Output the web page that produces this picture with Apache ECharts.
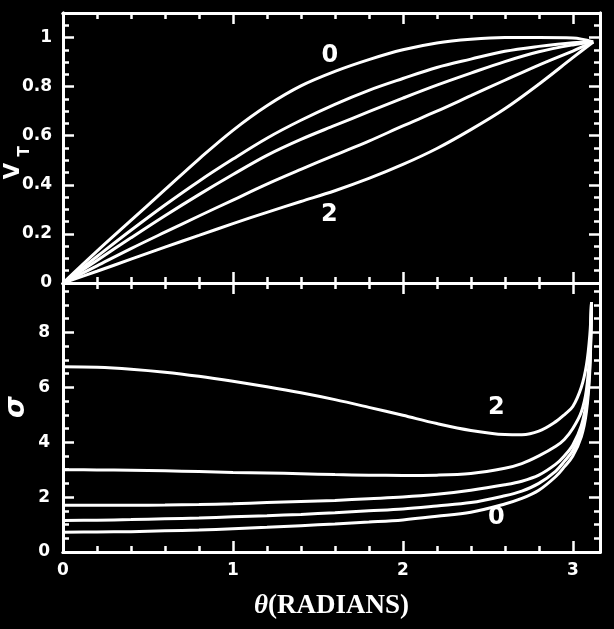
<!DOCTYPE html>
<html><head><meta charset="utf-8">
<script src="https://cdn.jsdelivr.net/npm/echarts@6/dist/echarts.min.js"></script>
<style>html,body{margin:0;padding:0;background:#000}#c{width:614px;height:629px}</style>
</head><body><div id="c"></div>
<script>
// ---- data ----
const thetaTop = [0, 0.2, 0.4, 0.6, 0.8, 1.0, 1.2, 1.4, 1.6, 1.8, 2.0, 2.2, 2.4, 2.6, 2.8, 3.0, 3.12];
const vt0 = [0, 0.13, 0.255, 0.38, 0.505, 0.622, 0.722, 0.803, 0.862, 0.91, 0.95, 0.978, 0.993, 1.0, 1.0, 0.998, 0.982];
const vt1 = [0, 0.108, 0.215, 0.318, 0.415, 0.505, 0.59, 0.663, 0.728, 0.785, 0.833, 0.878, 0.912, 0.944, 0.964, 0.979, 0.982];
const vt2 = [0, 0.092, 0.184, 0.274, 0.36, 0.442, 0.52, 0.585, 0.642, 0.698, 0.753, 0.806, 0.855, 0.902, 0.942, 0.97, 0.982];
const vt3 = [0, 0.07, 0.14, 0.207, 0.273, 0.338, 0.403, 0.463, 0.521, 0.578, 0.64, 0.7, 0.763, 0.826, 0.888, 0.945, 0.982];
const vt4 = [0, 0.048, 0.097, 0.146, 0.194, 0.242, 0.288, 0.332, 0.376, 0.426, 0.483, 0.548, 0.625, 0.71, 0.81, 0.918, 0.982];

const thetaBot = [0, 0.2, 0.4, 0.6, 0.8, 1.0, 1.2, 1.4, 1.6, 1.8, 2.0, 2.2, 2.4, 2.6, 2.7, 2.8, 2.9, 2.95, 3.0, 3.05, 3.08, 3.1, 3.11];
const sg0 = [0.72, 0.73, 0.74, 0.77, 0.8, 0.85, 0.9, 0.96, 1.02, 1.09, 1.17, 1.3, 1.45, 1.75, 1.95, 2.25, 2.75, 3.1, 3.5, 4.2, 5.1, 6.6, 9.1];
const sg1 = [1.15, 1.16, 1.18, 1.21, 1.24, 1.28, 1.32, 1.37, 1.43, 1.5, 1.57, 1.68, 1.8, 2.05, 2.22, 2.5, 2.95, 3.3, 3.7, 4.4, 5.3, 6.8, 9.1];
const sg2 = [1.7, 1.7, 1.7, 1.71, 1.73, 1.76, 1.8, 1.84, 1.88, 1.94, 2.0, 2.1, 2.25, 2.45, 2.58, 2.8, 3.2, 3.5, 3.9, 4.6, 5.5, 7.0, 9.1];
const sg3 = [3.0, 2.99, 2.98, 2.96, 2.93, 2.9, 2.88, 2.85, 2.82, 2.8, 2.79, 2.8, 2.86, 3.05, 3.22, 3.5, 3.85, 4.1, 4.5, 5.1, 5.9, 7.3, 9.1];
const sg4 = [6.75, 6.73, 6.66, 6.55, 6.4, 6.22, 6.02, 5.8, 5.55, 5.27, 4.98, 4.68, 4.43, 4.28, 4.27, 4.4, 4.75, 5.0, 5.3, 6.0, 6.8, 7.9, 9.1];

const labelsTop = [['0', 1.57, 0.927], ['2', 1.567, 0.276]];
const labelsBot = [['2', 2.55, 5.25], ['0', 2.55, 1.24]];

const xTicks = { min: 0, max: 3.16, major: 1, minor: 0.2 };
const yTopTicks = { min: 0, max: 1.1, major: 0.2, minor: 0.05 };
const yBotTicks = { min: 0, max: 9.8, major: 2, minor: 0.5 };

// ---- chart ----
const W = '#fff';
const tickFont = { color: W, fontFamily: 'DejaVu Sans', fontWeight: 'bold', fontSize: 17 };

function axis(grid, pos, t, major, showLabel, extra) {
  const a = {
    type: 'value', gridIndex: grid, position: pos,
    min: t.min, max: t.max, interval: major ? t.major : t.minor,
    axisLine: { show: true, onZero: false, lineStyle: { color: W, width: 3 } },
    axisTick: { show: true, inside: true, length: major ? 11 : 6, lineStyle: { color: W, width: 2.5 } },
    splitLine: { show: false },
    axisLabel: Object.assign({ show: showLabel, showMaxLabel: false }, tickFont)
  };
  return Object.assign(a, extra || {});
}

const xAxes = [
  axis(0, 'bottom', xTicks, true, false),
  axis(0, 'bottom', xTicks, false, false),
  axis(0, 'top', xTicks, true, false),
  axis(0, 'top', xTicks, false, false),
  axis(1, 'bottom', xTicks, true, true, {
    name: '{t|θ}(RADIANS)', nameLocation: 'middle', nameGap: 41,
    nameTextStyle: { color: W, fontFamily: 'Liberation Serif', fontWeight: 'bold', fontSize: 27,
      rich: { t: { color: W, fontFamily: 'Liberation Serif', fontWeight: 'bold', fontStyle: 'italic', fontSize: 27 } } }
  }),
  axis(1, 'bottom', xTicks, false, false),
  axis(1, 'top', xTicks, true, false),
  axis(1, 'top', xTicks, false, false)
];
xAxes[4].axisLabel.margin = 10;

const yAxes = [
  axis(0, 'left', yTopTicks, true, true),
  axis(0, 'left', yTopTicks, false, false),
  axis(0, 'right', yTopTicks, true, false),
  axis(0, 'right', yTopTicks, false, false),
  axis(1, 'left', yBotTicks, true, true),
  axis(1, 'left', yBotTicks, false, false),
  axis(1, 'right', yBotTicks, true, false),
  axis(1, 'right', yBotTicks, false, false)
];
yAxes[0].axisLabel.margin = 11;
yAxes[4].axisLabel.margin = 13;

function pairs(xs, ys) { return xs.map((x, i) => [x, ys[i]]); }
function curve(xs, ys, xi, yi) {
  return { type: 'line', xAxisIndex: xi, yAxisIndex: yi, data: pairs(xs, ys),
    showSymbol: false, smooth: 0.35,
    lineStyle: { color: W, width: 3 }, z: 3 };
}
function labels(list, xi, yi) {
  return { type: 'scatter', xAxisIndex: xi, yAxisIndex: yi, symbolSize: 1,
    itemStyle: { color: 'rgba(0,0,0,0)', opacity: 1 }, z: 4,
    data: list.map(l => ({ value: [l[1], l[2]], name: l[0] })),
    label: { show: true, position: 'inside', formatter: p => p.name, opacity: 1,
      textBorderWidth: 0, color: W, fontFamily: 'DejaVu Sans', fontWeight: 'bold', fontSize: 24 } };
}

const series = [
  curve(thetaTop, vt0, 0, 0), curve(thetaTop, vt1, 0, 0), curve(thetaTop, vt2, 0, 0),
  curve(thetaTop, vt3, 0, 0), curve(thetaTop, vt4, 0, 0),
  curve(thetaBot, sg0, 4, 4), curve(thetaBot, sg1, 4, 4), curve(thetaBot, sg2, 4, 4),
  curve(thetaBot, sg3, 4, 4), curve(thetaBot, sg4, 4, 4),
  labels(labelsTop, 0, 0), labels(labelsBot, 4, 4)
];

const titleFont = { fill: W, fontFamily: 'DejaVu Sans', fontWeight: 'bold', align: 'center', verticalAlign: 'middle' };
const chart = echarts.init(document.getElementById('c'), null, { renderer: 'canvas' });
chart.setOption({
  backgroundColor: '#000',
  animation: false,
  grid: [
    { left: 63, right: 14, top: 13, height: 270 },
    { left: 63, right: 14, top: 283, height: 269 }
  ],
  xAxis: xAxes,
  yAxis: yAxes,
  series: series,
  graphic: [
    { type: 'text', x: 13.5, y: 171, rotation: Math.PI / 2, style: Object.assign({ text: 'V', fontSize: 21 }, titleFont) },
    { type: 'text', x: 25, y: 151.5, rotation: Math.PI / 2, style: Object.assign({ text: 'T', fontSize: 15 }, titleFont) },
    { type: 'text', x: 17, y: 407, rotation: Math.PI / 2, style: Object.assign({ text: 'σ', fontSize: 28, fontStyle: 'italic' }, titleFont) }
  ]
});
</script></body></html>
